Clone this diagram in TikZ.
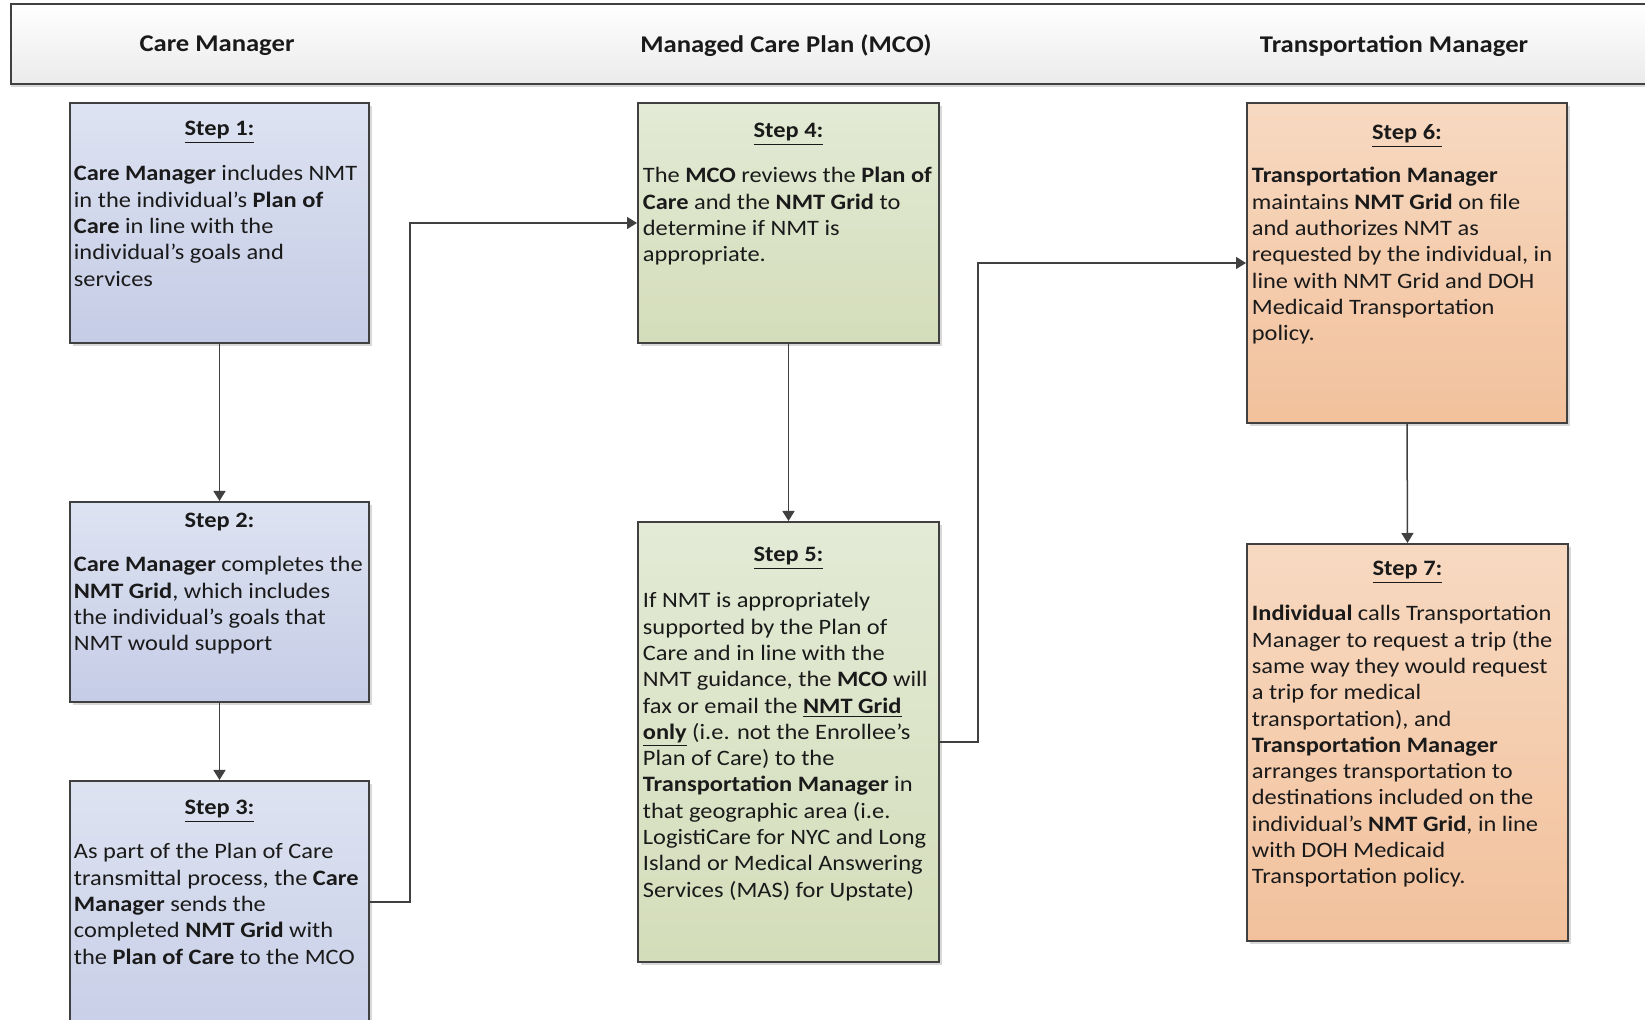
\documentclass[tikz,border=0pt]{standalone}
\usepackage{fontspec}
\setmainfont[FakeStretch=1.11]{Carlito}
\usetikzlibrary{arrows.meta,calc,shadows}
\definecolor{lineclr}{HTML}{404040}
\definecolor{txtclr}{HTML}{1A1A1A}
\definecolor{bluetop}{HTML}{DDE3F1}
\definecolor{bluebot}{HTML}{C5CCE6}
\definecolor{greentop}{HTML}{E3EAD6}
\definecolor{greenbot}{HTML}{D4DDBA}
\definecolor{orgtop}{HTML}{F7D9C1}
\definecolor{orgbot}{HTML}{F2C19C}
\begin{document}
\begin{tikzpicture}[x=0.5pt,y=-0.5pt,
  box/.style={rectangle, draw=lineclr, line width=1pt, inner sep=0pt,
    drop shadow={shadow xshift=1.5pt, shadow yshift=-1.5pt, fill=black!30}},
  bluebox/.style={box, top color=bluetop, bottom color=bluebot},
  greenbox/.style={box, top color=greentop, bottom color=greenbot},
  orgbox/.style={box, top color=orgtop, bottom color=orgbot},
  hdr/.style={rectangle, draw=lineclr, line width=1pt, inner sep=0pt,
    top color=white, bottom color=black!8,
    drop shadow={shadow xshift=0pt, shadow yshift=-1.5pt, fill=black!30}},
  hdrtext/.style={font=\fontsize{12}{14}\selectfont\bfseries, text=txtclr, inner sep=0pt},
  steptitle/.style={font=\fontsize{11}{13.15}\selectfont\bfseries, text=txtclr, inner sep=0pt, anchor=base},
  body/.style={font=\fontsize{11}{13.15}\selectfont, text=txtclr, inner sep=0pt, align=left, anchor=north west},
  conn/.style={draw=lineclr, line width=0.75pt, -{Triangle[length=5pt,width=6pt]}}
]
\useasboundingbox (0,0) rectangle (1645,1020);
\clip (0,0) rectangle (1645,1020);

% header band
\node[hdr, minimum width=825pt, minimum height=40pt] (hdr) at (835.5,44) {};
\node[hdrtext] (h1) at (217,46) {Care Manager};
\node[hdrtext] (h2) at (786,46) {Managed Care Plan (MCO)};
\node[hdrtext] (h3) at (1394,46) {Transportation Manager};

% boxes
\node[bluebox, minimum width=149.5pt, minimum height=120pt] (s1) at (219.5,223) {};
\node[bluebox, minimum width=149.5pt, minimum height=100pt] (s2) at (219.5,602) {};
\node[bluebox, minimum width=149.5pt, minimum height=140pt] (s3) at (219.5,921) {};
\node[greenbox, minimum width=150.5pt, minimum height=120pt] (s4) at (788.5,223) {};
\node[greenbox, minimum width=150.5pt, minimum height=220pt] (s5) at (788.5,742) {};
\node[orgbox, minimum width=160pt, minimum height=160pt] (s6) at (1407,263) {};
\node[orgbox, minimum width=160.5pt, minimum height=198.5pt] (s7) at (1407.5,742.5) {};

% titles
\node[steptitle] (t1) at ($(s1.north)+(0,34)$) {\underline{Step 1:}};
\node[steptitle] (t2) at ($(s2.north)+(0,27)$) {Step 2:};
\node[steptitle] (t3) at ($(s3.north)+(0,35)$) {\underline{Step 3:}};
\node[steptitle] (t4) at ($(s4.north)+(0,36)$) {\underline{Step 4:}};
\node[steptitle] (t5) at ($(s5.north)+(0,41)$) {\underline{Step 5:}};
\node[steptitle] (t6) at ($(s6.north)+(0,38)$) {\underline{Step 6:}};
\node[steptitle] (t7) at ($(s7.north)+(0,33)$) {\underline{Step 7:}};

% bodies
\node[body] (b1) at ($(s1.north west)+(4.5,60)$) {\strut\textbf{Care Manager} includes NMT\\
in the individual’s \textbf{Plan of}\\
\textbf{Care} in line with the\\
individual’s goals and\\
services};
\node[body] (b2) at ($(s2.north west)+(4.5,52)$) {\strut\textbf{Care Manager} completes the\\
\textbf{NMT Grid}, which includes\\
the individual’s goals that\\
NMT would support};
\node[body] (b3) at ($(s3.north west)+(4.5,60)$) {\strut As part of the Plan of Care\\
transmittal process, the \textbf{Care}\\
\textbf{Manager} sends the\\
completed \textbf{NMT Grid} with\\
the \textbf{Plan of Care} to the MCO};
\node[body] (b4) at ($(s4.north west)+(5.5,62)$) {\strut The \textbf{MCO} reviews the \textbf{Plan of}\\
\textbf{Care} and the \textbf{NMT Grid} to\\
determine if NMT is\\
appropriate.};
\node[body] (b5) at ($(s5.north west)+(5.5,68)$) {\strut If NMT is appropriately\\
supported by the Plan of\\
Care and in line with the\\
NMT guidance, the \textbf{MCO} will\\
fax or email the \underline{\textbf{NMT Grid}}\\
\underline{\textbf{only}} (i.e. not the Enrollee’s\\
Plan of Care) to the\\
\textbf{Transportation Manager} in\\
that geographic area (i.e.\\
LogistiCare for NYC and Long\\
Island or Medical Answering\\
Services (MAS) for Upstate)};
\node[body] (b6) at ($(s6.north west)+(5.5,62)$) {\strut\textbf{Transportation Manager}\\
maintains \textbf{NMT Grid} on file\\
and authorizes NMT as\\
requested by the individual, in\\
line with NMT Grid and DOH\\
Medicaid Transportation\\
policy.};
\node[body] (b7) at ($(s7.north west)+(5.5,59)$) {\strut\textbf{Individual} calls Transportation\\
Manager to request a trip (the\\
same way they would request\\
a trip for medical\\
transportation), and\\
\textbf{Transportation Manager}\\
arranges transportation to\\
destinations included on the\\
individual’s \textbf{NMT Grid}, in line\\
with DOH Medicaid\\
Transportation policy.};

% connectors
\draw[conn] (s1.south) -- (s2.north);
\draw[conn] (s2.south) -- (s3.north);
\coordinate (c3) at ($(s3.north east)+(0,122)$);
\draw[conn] (c3) -- ++(40,0) |- (s4.west);
\draw[conn] (s4.south) -- (s5.north);
\draw[conn] (s5.east) -- ++(38,0) |- (s6.west);
\draw[conn] (s6.south) -- (s7.north);
\end{tikzpicture}
\end{document}
